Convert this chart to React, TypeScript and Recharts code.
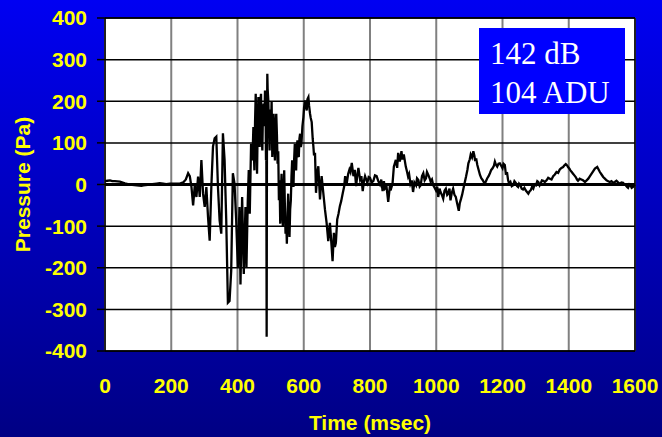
import React from "react";
import {
  LineChart,
  Line,
  XAxis,
  YAxis,
  CartesianGrid,
  ReferenceLine,
  Label,
} from "recharts";

// [time ms, pressure Pa]
const quietSegment: [number, number][] = [
  [0, 8], [8, 9], [15, 10], [22, 8], [30, 8], [45, 7], [60, 3], [75, 0],
  [96, -2], [110, -3], [116, -2], [136, 0], [156, 2], [165, 3], [176, 2],
  [185, 1], [196, 2], [216, 2], [226, 2], [236, 5], [244, 12],
];

const onsetSegment: [number, number][] = [
  [251, 27], [256, 20], [261, -6], [266, -50], [271, -2], [276, -30],
  [281, 19], [286, -30], [291, 59], [296, -22], [301, -54], [306, -6],
  [311, -78], [316, -135], [321, -6], [326, 91], [331, 111], [336, 115],
  [341, -6], [346, -86], [351, -118], [356, 123], [361, 59], [366, -86],
  [371, -284], [376, -280], [381, -207], [386, 27], [391, 2], [396, -86],
  [401, -199], [406, -54], [409, -240], [414, -30], [419, -215], [424, -54],
  [427, -199], [431, -40], [434, 35], [437, -70], [441, 98], [445, 58],
];

const peakSegment: [number, number][] = [
  [448, 138], [450, 60], [451, 34], [453, 150], [455, 218], [457, 120],
  [459, 26], [461, 140], [463, 210], [465, 120], [467, 90], [469, 200],
  [471, 218], [473, 120], [475, 82], [477, 180], [479, 194], [481, 140],
  [483, 226], [485, 160], [486, 58], [487, 100], [488, -366], [489, 120],
  [490, 266], [491, 230], [493, 202], [495, 140], [497, 82], [499, 180],
  [501, 138], [503, 200], [505, 66], [507, 120], [509, 170], [511, 100],
  [513, 58], [515, 140], [517, 170], [519, 120], [521, 50], [523, 80],
  [525, -38], [527, 10], [529, -94], [531, -20], [533, 26], [535, -60],
  [537, -102], [539, -30], [541, 34], [543, -50], [545, -118], [547, -80],
  [549, -142], [551, -70], [553, -22], [555, -90], [557, -126], [559, -60],
  [561, -38], [563, 20], [565, 58], [567, 10], [569, -6], [571, 60],
  [573, 98], [575, 50], [577, 34], [579, 90], [581, 106], [583, 70],
  [585, 66], [587, 110], [589, 122], [591, 90], [593, 98], [596, 140],
  [599, 162], [601, 185], [604, 202], [606, 190], [609, 178], [611, 205],
  [614, 210], [616, 190], [619, 170], [621, 160], [624, 150], [627, 110],
  [629, 92], [631, 70], [634, 76], [637, -20], [641, 30], [644, 44],
  [649, -36], [654, 20], [659, -20], [664, -60], [669, -92], [674, -136],
  [679, -92], [684, -148], [687, -184], [691, -116], [694, -150], [697, -140],
  [701, -84], [705, -70], [709, -52], [713, -40], [718, -20], [722, -5],
  [725, 20], [730, 4], [734, 25], [738, 36],
];

const tailSegment: [number, number][] = [
  [741, 30], [745, 52], [750, 20], [754, 35], [758, -4], [762, 25], [765, 40],
  [770, 12], [774, 20], [778, -16], [782, 10], [785, 20], [792, 4], [796, 18],
  [800, 16], [805, 5], [810, 8], [815, 22], [820, 20], [825, 8], [830, 0],
  [834, 12], [838, -16], [842, 8], [845, -10], [850, -6], [855, -42],
  [860, -4], [862, -14], [868, 2], [872, 43], [878, 59], [882, 40], [885, 76],
  [890, 55], [895, 80], [898, 60], [902, 72], [908, 43], [912, 30], [915, 19],
  [918, 25], [922, 2], [926, 10], [930, -18], [934, 5], [939, -2], [942, 15],
  [946, 11], [950, -5], [953, -2], [957, 20], [961, 27], [965, 10], [969, 15],
  [972, 30], [976, 23], [980, 15], [983, 7], [987, 12], [991, -2], [995, -8],
  [999, -14], [1003, -5], [1006, -30], [1010, -10], [1013, -18], [1017, -25],
  [1021, -34], [1025, -15], [1029, -10], [1033, -25], [1036, -22], [1040, -10],
  [1043, -38], [1047, -20], [1051, -10], [1055, -25], [1059, -30], [1063, -45],
  [1068, -63], [1071, -45], [1075, -34], [1078, -25], [1081, -14], [1086, 5],
  [1090, 19], [1094, 35], [1097, 51], [1101, 60], [1104, 72], [1108, 65],
  [1112, 80], [1115, 70], [1117, 59], [1121, 60], [1124, 47], [1128, 35],
  [1132, 23], [1136, 15], [1140, 11], [1144, 5], [1147, 2], [1150, 8],
  [1154, 15], [1158, 20], [1162, 27], [1166, 35], [1170, 39], [1174, 45],
  [1177, 55], [1180, 48], [1184, 43], [1188, 50], [1192, 51], [1196, 45],
  [1200, 39], [1203, 50], [1207, 47], [1210, 26], [1214, 27], [1217, 10],
  [1220, 2], [1224, 6], [1228, -4], [1232, -2], [1236, 8], [1240, 4],
  [1244, -4], [1247, -6], [1250, 2], [1254, -2], [1258, -10], [1262, -12],
  [1266, -8], [1270, -14], [1274, -18], [1278, -22], [1282, -16], [1285, -14],
  [1289, -6], [1293, -10], [1297, 0], [1301, -2], [1305, 8], [1308, 6],
  [1312, -2], [1315, 2], [1319, 10], [1323, 9], [1328, 6], [1333, 10],
  [1338, 16], [1343, 14], [1348, 12], [1353, 20], [1358, 24], [1363, 30],
  [1368, 28], [1373, 36], [1378, 40], [1383, 42], [1387, 46], [1391, 49],
  [1395, 46], [1398, 42], [1402, 38], [1405, 34], [1409, 30], [1413, 26],
  [1417, 22], [1421, 18], [1425, 12], [1428, 9], [1433, 14], [1438, 12],
  [1443, 10], [1449, 6], [1454, 10], [1459, 14], [1464, 20], [1469, 26],
  [1474, 32], [1479, 38], [1486, 42], [1490, 36], [1494, 30], [1499, 24],
  [1504, 18], [1509, 14], [1514, 10], [1519, 8], [1524, 6], [1529, 8],
  [1534, 4], [1539, 6], [1544, 9], [1549, 5], [1554, 2], [1559, 5], [1564, 4],
  [1568, 0], [1572, -2], [1576, -6], [1579, -8], [1583, 0], [1586, -2],
  [1590, -8], [1594, -6], [1597, -2], [1600, -4],
];

const xTicks = [0, 200, 400, 600, 800, 1000, 1200, 1400, 1600];
const yTicks = [-400, -300, -200, -100, 0, 100, 200, 300, 400];
const infoLines = ["142 dB", "104 ADU"];

const data = [...quietSegment, ...onsetSegment, ...peakSegment, ...tailSegment].map(
  ([t, p]) => ({ t, p })
);

const tickStyle = {
  fill: "#ffff00",
  fontSize: 21,
  fontWeight: 700,
  fontFamily: "'Liberation Sans', Arial, sans-serif",
};

export default function App() {
  return (
    <div
      style={{
        position: "absolute",
        left: 0,
        top: 0,
        width: 662,
        height: 437,
        background: "linear-gradient(to bottom, #0000f2, #000084)",
      }}
    >
      <LineChart
        width={662}
        height={437}
        data={data}
        margin={{ top: 18, right: 27, left: 0, bottom: 0 }}
      >
        <CartesianGrid
          fill="#ffffff"
          fillOpacity={1}
          horizontal={false}
          stroke="#808080"
          strokeWidth={2}
        />
        <CartesianGrid vertical={false} stroke="#000000" strokeWidth={1.5} />
        <XAxis
          dataKey="t"
          type="number"
          domain={[0, 1600]}
          ticks={xTicks}
          tick={tickStyle}
          tickSize={0}
          tickMargin={27}
          axisLine={{ stroke: "#000", strokeWidth: 1.5 }}
          height={86}
        >
          <Label
            value="Time (msec)"
            position="insideBottom"
            offset={7}
            style={{ ...tickStyle }}
          />
        </XAxis>
        <YAxis
          dataKey="p"
          type="number"
          domain={[-400, 400]}
          ticks={yTicks}
          tick={tickStyle}
          tickSize={8}
          tickMargin={10}
          tickLine={{ stroke: "#000", strokeWidth: 1.5 }}
          axisLine={{ stroke: "#000", strokeWidth: 1.5 }}
          width={105}
        >
          <Label
            value="Pressure (Pa)"
            angle={-90}
            position="insideLeft"
            offset={23}
            style={{ ...tickStyle, textAnchor: "middle" }}
          />
        </YAxis>
        <ReferenceLine y={0} stroke="#000" strokeWidth={3} />
        <ReferenceLine y={400} stroke="#000" strokeWidth={1.5} />
        <ReferenceLine x={1600} stroke="#000" strokeWidth={1.5} />
        <Line
          type="linear"
          dataKey="p"
          stroke="#000"
          strokeWidth={2.3}
          dot={false}
          isAnimationActive={false}
        />
      </LineChart>
      <svg
        width={146}
        height={86}
        style={{ position: "absolute", left: 479, top: 28 }}
      >
        <rect width={146} height={86} fill="#0000ff" />
        {infoLines.map((s, i) => (
          <text
            key={s}
            x={11}
            y={36 + i * 38.5}
            fill="#ffffff"
            fontSize={31}
            fontFamily="'Liberation Serif', 'Times New Roman', serif"
          >
            {s}
          </text>
        ))}
      </svg>
    </div>
  );
}
